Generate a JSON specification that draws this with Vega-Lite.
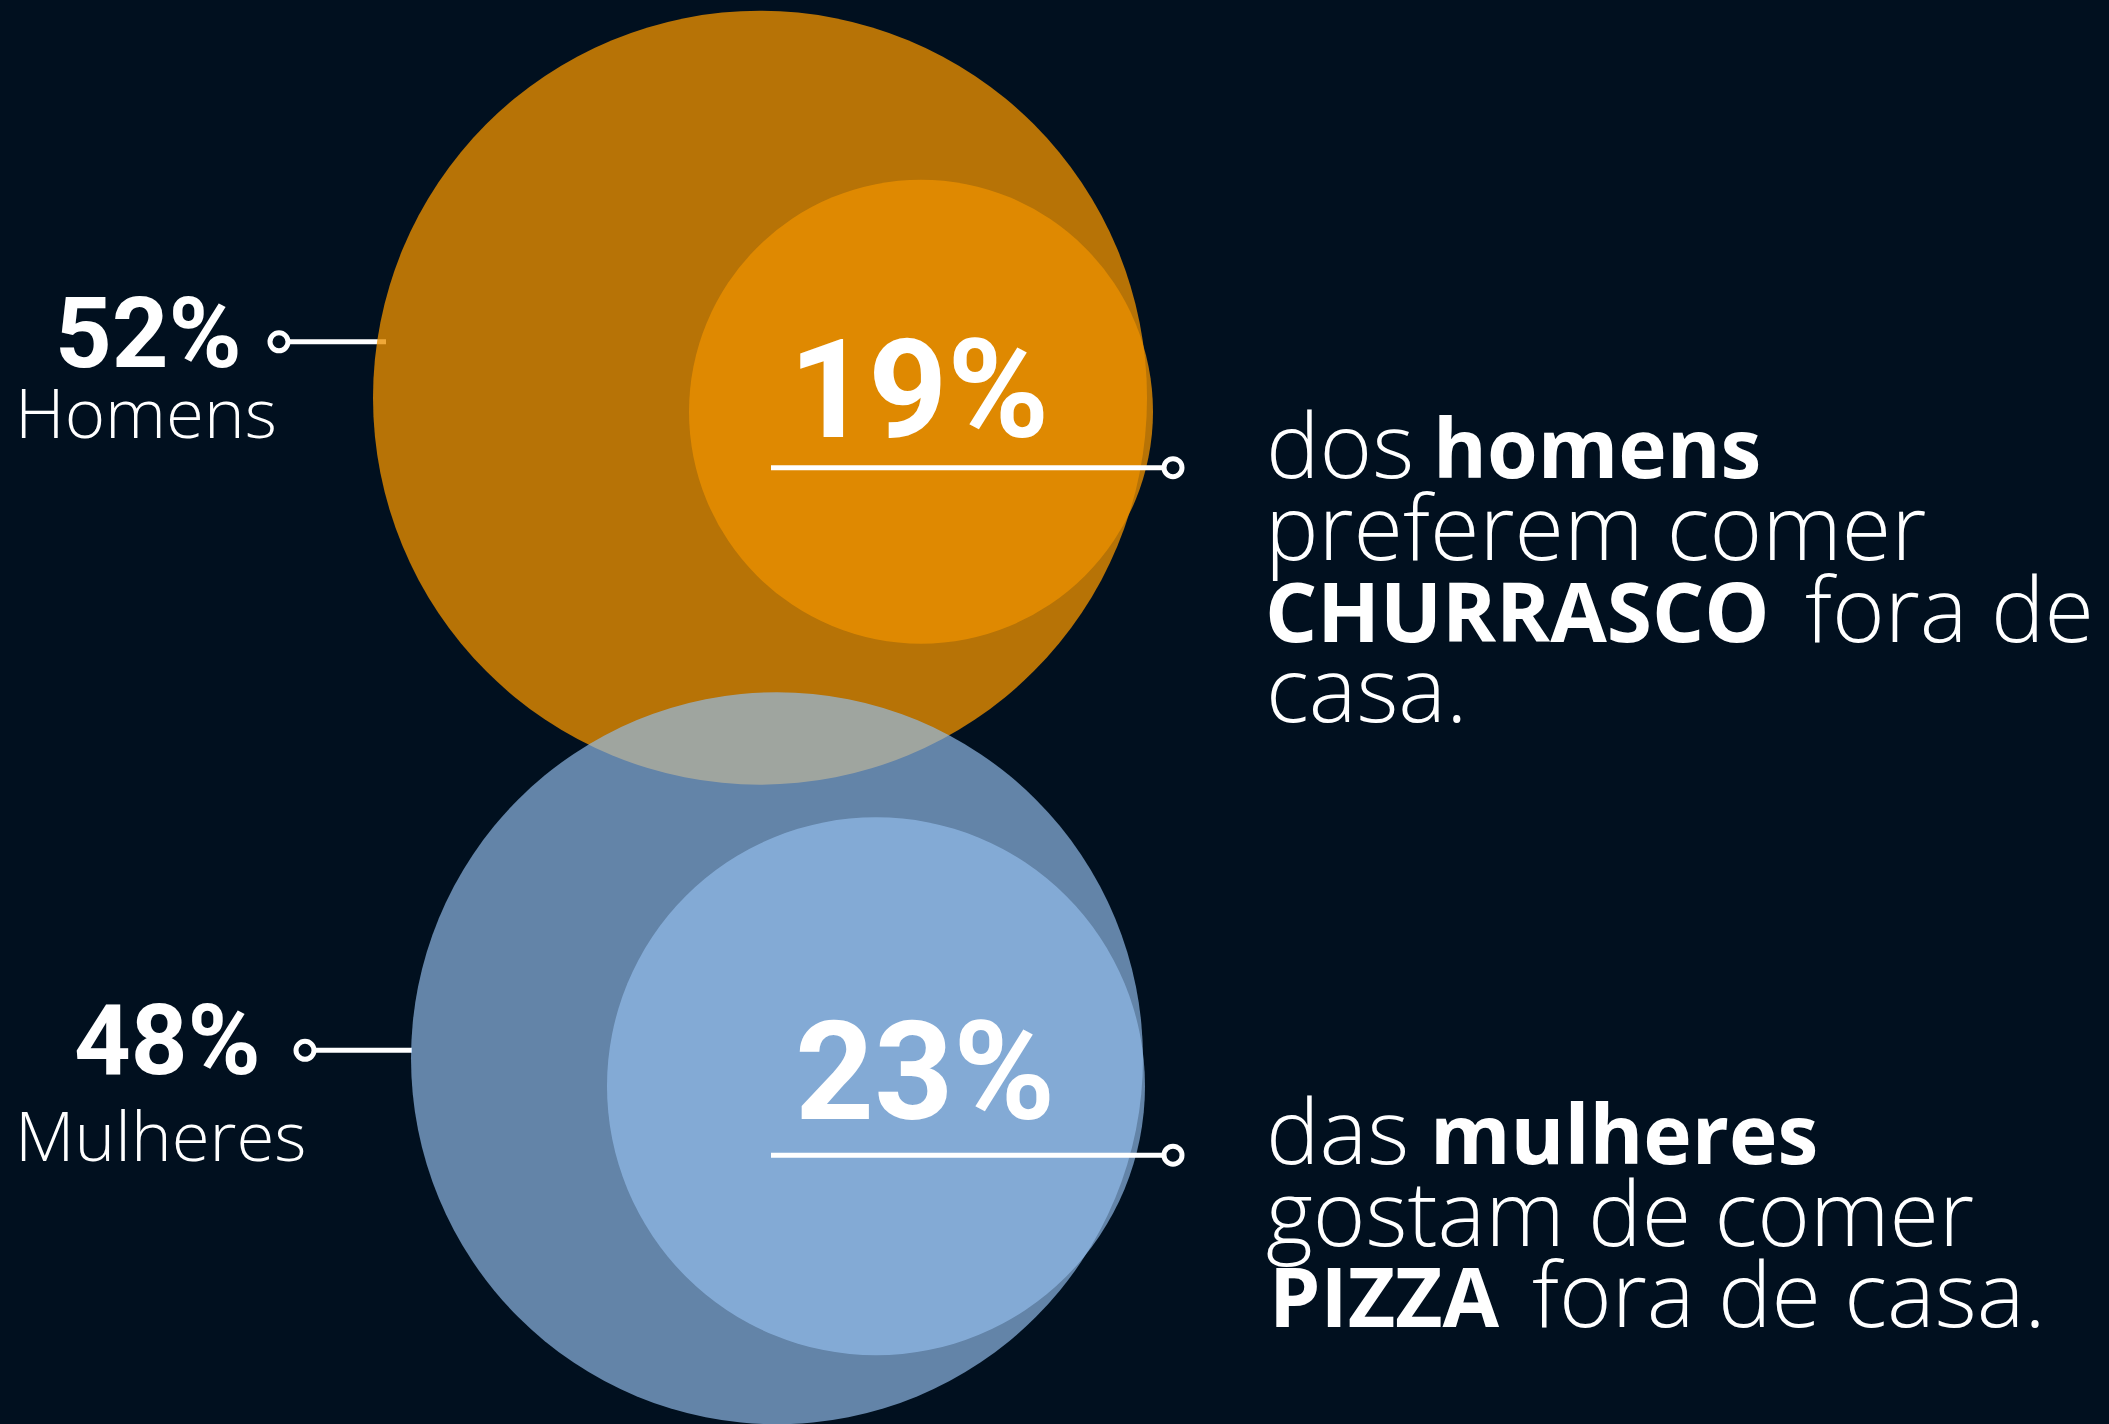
{
  "$schema": "https://vega.github.io/schema/vega-lite/v6.json",
  "width": 2109,
  "height": 1424,
  "autosize": {"type": "fit", "contains": "padding"},
  "padding": 0,
  "background": "#01101f",
  "config": {"view": {"stroke": null}},
  "datasets": {
    "orangeCircles": [
      {"group": "Homens", "x": 760, "y": 398, "r": 387},
      {"group": "Homens", "x": 921, "y": 412, "r": 232}
    ],
    "blueCircles": [
      {"group": "Mulheres", "x": 777, "y": 1059, "r": 366},
      {"group": "Mulheres", "x": 876, "y": 1087, "r": 269}
    ],
    "linesUnder": [
      {"x": 279, "x2": 386, "y": 342},
      {"x": 305, "x2": 412, "y": 1051}
    ],
    "linesOver": [
      {"x": 771, "x2": 1173, "y": 468},
      {"x": 771, "x2": 1173, "y": 1156}
    ],
    "dots": [
      {"x": 279, "y": 342},
      {"x": 305, "y": 1051},
      {"x": 1173, "y": 468},
      {"x": 1173, "y": 1156}
    ],
    "sidePct": [
      {"text": "52%", "x": 55, "y": 367},
      {"text": "48%", "x": 74, "y": 1075}
    ],
    "sideLabel": [
      {"text": "Homens", "x": 15, "y": 438},
      {"text": "Mulheres", "x": 15, "y": 1162}
    ],
    "bigPct": [
      {"text": "19%", "x": 789, "y": 437},
      {"text": "23%", "x": 795, "y": 1120}
    ],
    "body": [
      {"text": "dos", "x": 1266, "y": 478},
      {"text": "preferem comer", "x": 1265, "y": 560},
      {"text": "fora de", "x": 1805, "y": 642},
      {"text": "casa.", "x": 1266, "y": 723},
      {"text": "das", "x": 1266, "y": 1165},
      {"text": "gostam de comer", "x": 1266, "y": 1247},
      {"text": "fora de casa.", "x": 1532, "y": 1328}
    ],
    "bodyBold": [
      {"text": "homens", "x": 1433, "y": 478},
      {"text": "CHURRASCO", "x": 1265, "y": 642},
      {"text": "mulheres", "x": 1430, "y": 1165},
      {"text": "PIZZA", "x": 1269, "y": 1328}
    ]
  },
  "encoding": {
    "x": {"field": "x", "type": "quantitative", "scale": {"domain": [0, 2109], "nice": false, "zero": false}, "axis": null},
    "y": {"field": "y", "type": "quantitative", "scale": {"domain": [0, 1424], "nice": false, "zero": false, "reverse": true}, "axis": null}
  },
  "layer": [
    {
      "data": {"name": "linesUnder"},
      "mark": {"type": "rule", "color": "#ffffff", "strokeWidth": 5},
      "encoding": {"x2": {"field": "x2"}}
    },
    {
      "data": {"name": "orangeCircles"},
      "mark": {"type": "point", "shape": "circle", "filled": true, "color": "#eb8f00", "opacity": 0.78, "strokeWidth": 0},
      "encoding": {
        "size": {"field": "r", "type": "quantitative", "scale": {"type": "pow", "exponent": 2, "domain": [0, 400], "range": [0, 640000]}, "legend": null}
      }
    },
    {
      "data": {"name": "blueCircles"},
      "mark": {"type": "point", "shape": "circle", "filled": true, "color": "#94bdeb", "opacity": 0.67, "strokeWidth": 0},
      "encoding": {
        "size": {"field": "r", "type": "quantitative", "scale": {"type": "pow", "exponent": 2, "domain": [0, 400], "range": [0, 640000]}, "legend": null}
      }
    },
    {
      "data": {"name": "linesOver"},
      "mark": {"type": "rule", "color": "#ffffff", "strokeWidth": 5},
      "encoding": {"x2": {"field": "x2"}}
    },
    {
      "data": {"name": "dots"},
      "mark": {"type": "point", "shape": "circle", "filled": true, "fill": "#01101f", "stroke": "#ffffff", "strokeWidth": 5, "size": 324, "opacity": 1}
    },
    {
      "data": {"name": "sidePct"},
      "mark": {"type": "text", "align": "left", "baseline": "alphabetic", "font": "Roboto", "fontWeight": "bold", "fontSize": 99, "color": "#ffffff"},
      "encoding": {"text": {"field": "text"}}
    },
    {
      "data": {"name": "sideLabel"},
      "mark": {"type": "text", "align": "left", "baseline": "alphabetic", "font": "Open Sans", "fontWeight": 300, "fontSize": 69, "color": "#ffffff"},
      "encoding": {"text": {"field": "text"}}
    },
    {
      "data": {"name": "bigPct"},
      "mark": {"type": "text", "align": "left", "baseline": "alphabetic", "font": "Roboto", "fontWeight": "bold", "fontSize": 138, "color": "#ffffff"},
      "encoding": {"text": {"field": "text"}}
    },
    {
      "data": {"name": "body"},
      "mark": {"type": "text", "align": "left", "baseline": "alphabetic", "font": "Open Sans", "fontWeight": 300, "fontSize": 90, "color": "#ffffff"},
      "encoding": {"text": {"field": "text"}}
    },
    {
      "data": {"name": "bodyBold"},
      "mark": {"type": "text", "align": "left", "baseline": "alphabetic", "font": "Open Sans", "fontWeight": "bold", "fontSize": 82, "color": "#ffffff"},
      "encoding": {"text": {"field": "text"}}
    }
  ]
}
